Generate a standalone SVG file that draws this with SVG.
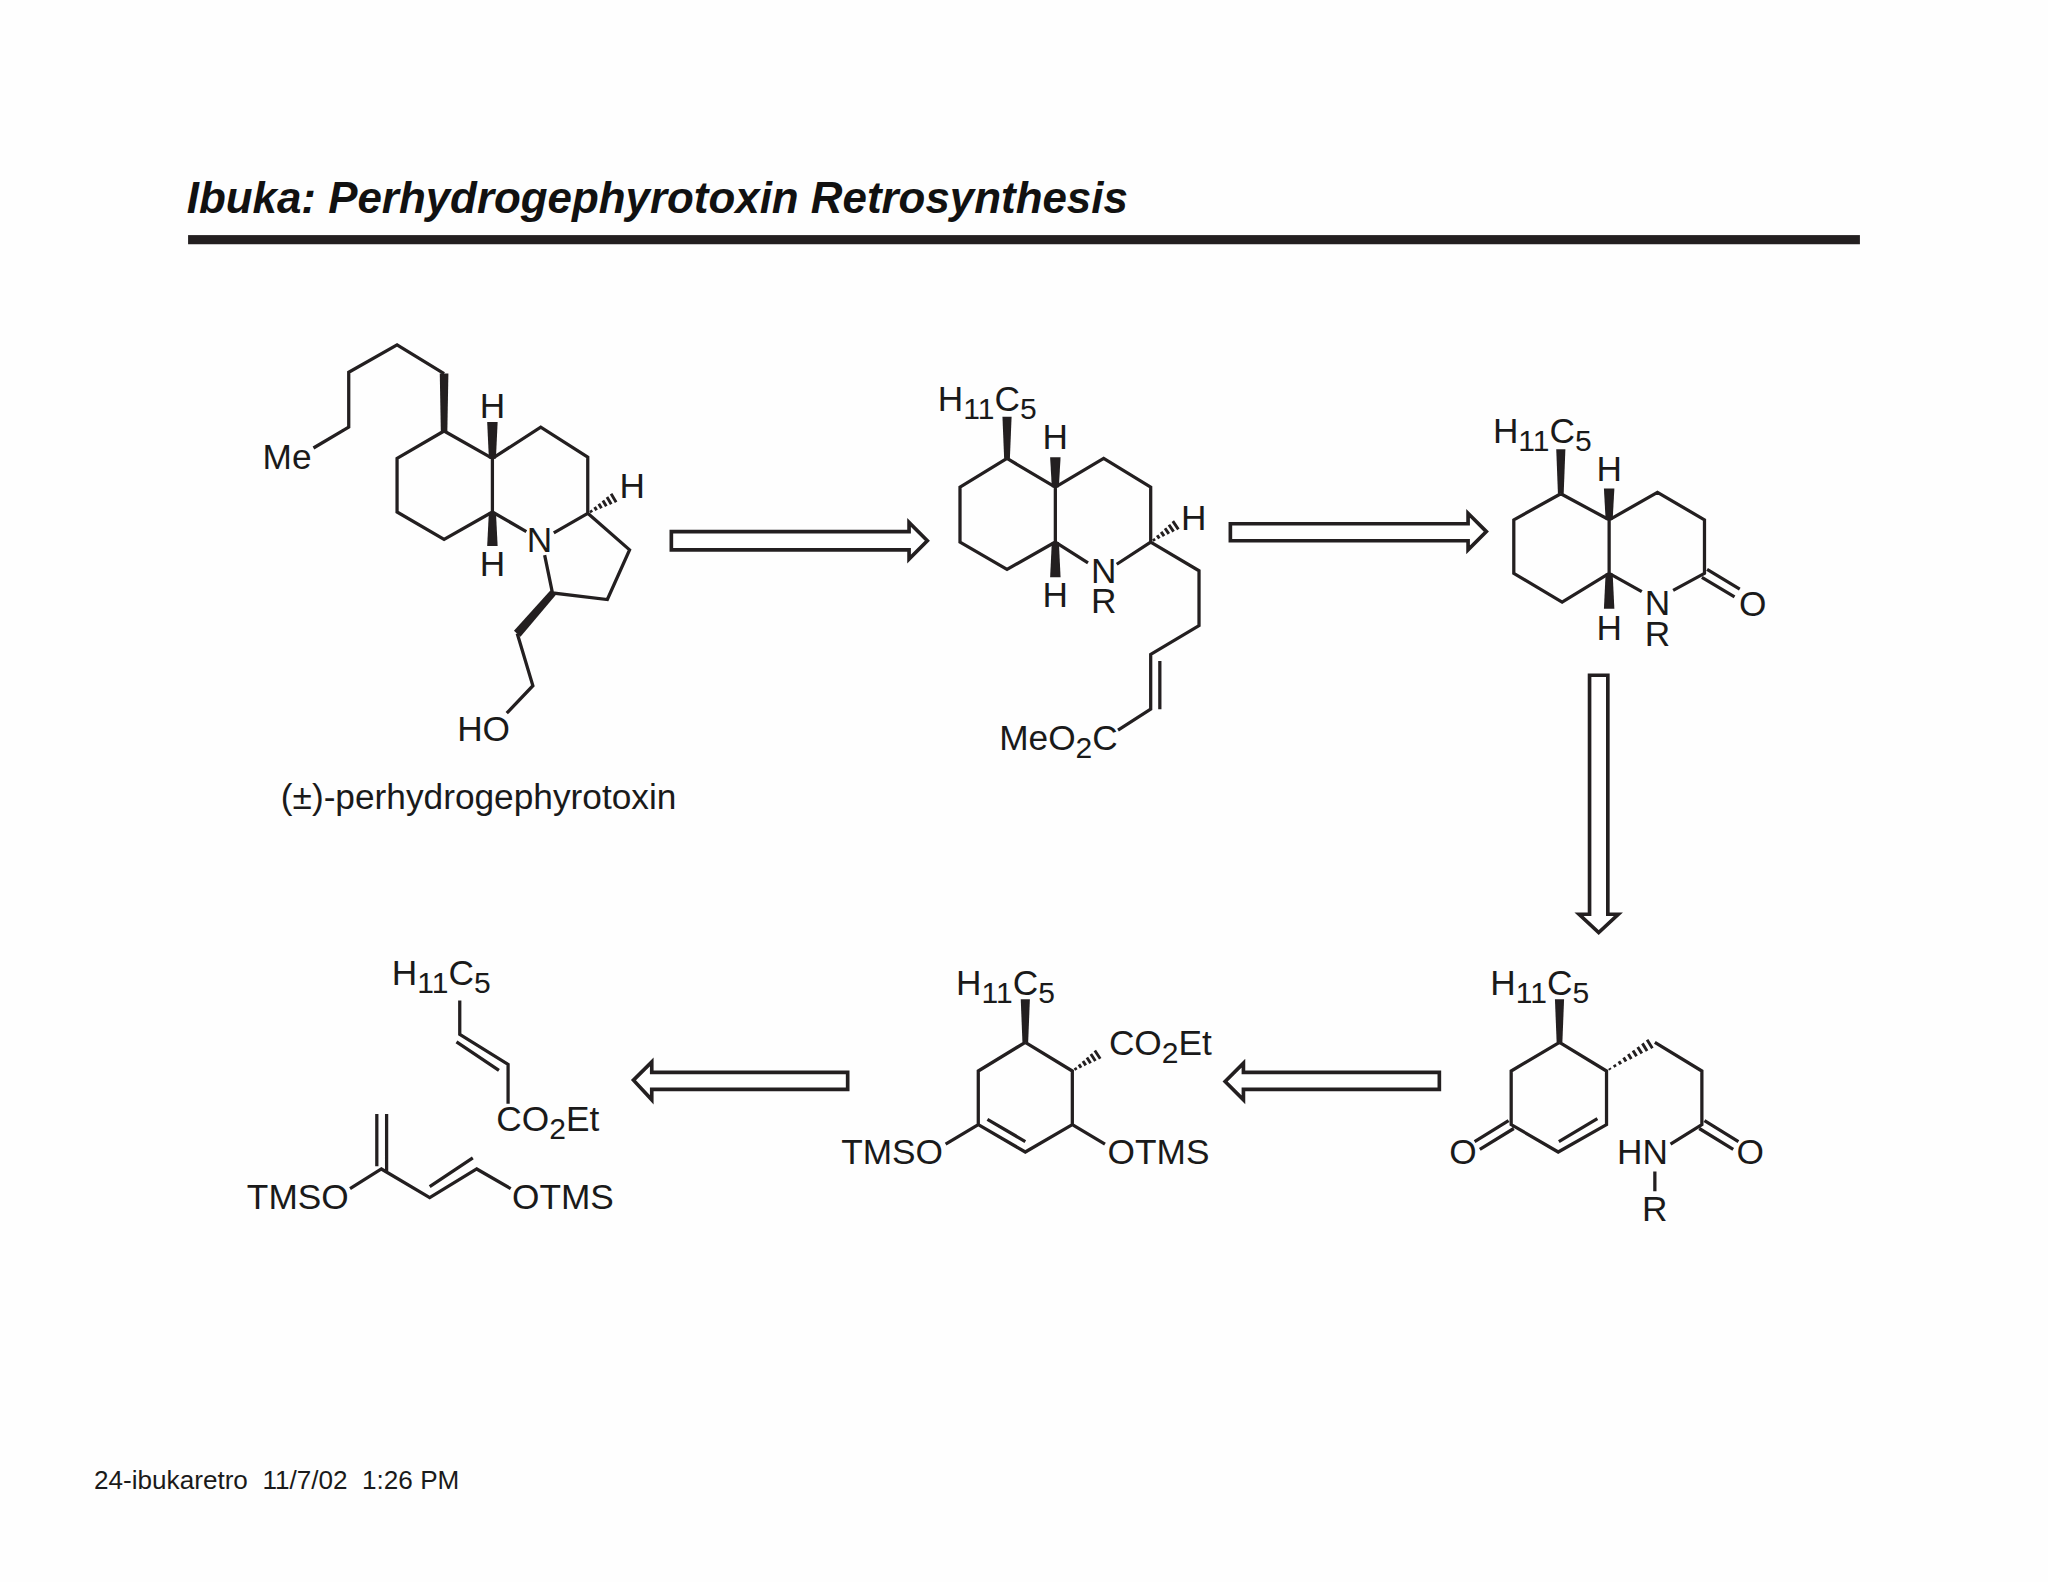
<svg xmlns="http://www.w3.org/2000/svg" width="2048" height="1582" viewBox="0 0 2048 1582">
<style>
text{font-family:"Liberation Sans",Arial,sans-serif;font-size:27px;fill:#1a1a1a}
.m{text-anchor:middle}
.s{font-size:23px}
.title{font-size:33.6px;font-weight:bold;font-style:italic;fill:#111}
.foot{font-size:20px;white-space:pre}
.b{fill:none;stroke:#231f20;stroke-width:2.5;stroke-linejoin:miter;stroke-linecap:butt}
.w{fill:#231f20;stroke:none}
.h{fill:none;stroke:#231f20;stroke-width:2.2}
.a{fill:#fff;stroke:#231f20;stroke-width:2.8;stroke-linejoin:miter}
</style>
<defs>
<path id="hash" class="h" d="M3-1V1M7-1.500V1.500M11-2V2M15-2.600V2.600M19-3.200V3.200M23-3.800V3.800"/>
<path id="hashL" class="h" d="M3-.7V.7M7.500-1V1M12-1.400V1.400M16.500-1.800V1.800M21-2.200V2.200M25.500-2.600V2.600M30-3V3M34.500-3.400V3.400M39-3.800V3.800"/>
</defs>
<rect width="2048" height="1582" fill="#fefefe"/>
<g transform="scale(1.30612)">
<g id="title">
<text class="title" x="143" y="163">Ibuka: Perhydrogephyrotoxin Retrosynthesis</text>
<rect class="w" x="144" y="180" width="1280" height="7"/>
</g>
<g id="footer"><text class="foot" x="72" y="1140">24-ibukaretro  11/7/02  1:26 PM</text></g>

<g id="connectors">
<polygon class="a" points="514,407 696,407 696,400 710,414 696,428 696,421 514,421"/>
<polygon class="a" points="942,401 1124,401 1124,393 1138,407 1124,421 1124,414 942,414"/>
<polygon class="a" points="1217,517 1231,517 1231,700 1239,700 1224,714 1209,700 1217,700"/>
<polygon class="a" points="1102,821 952,821 952,814 938,828 952,842 952,834 1102,834"/>
<polygon class="a" points="649,821 499,821 499,813 485,827 499,842 499,834 649,834"/>
</g>

<g id="perhydrogephyrotoxin">
<path class="b" d="M240,343L267,327V285L304,264L340,286M340,330L304,351V392L340,413L377,392V351L340,330M377,351L414,327L450,350V393L482,421L465,459L423,454L417,425M450,393L424,408M377,392L403,407M396,485L408,525L388,546"/>
<polygon class="w" points="337.500,330 342.500,330 343.300,286 336.700,286"/>
<polygon class="w" points="374.300,351 379.700,351 381,323 373,323"/>
<polygon class="w" points="374.300,392 379.700,392 381,418 373,418"/>
<polygon class="w" points="421.500,452 425.500,455.500 398.500,487.500 393.500,483"/>
<use href="#hash" transform="translate(450,393) rotate(-30.600)"/>
<text x="201" y="359">Me</text>
<text class="m" x="377" y="320">H</text>
<text class="m" x="377" y="441">H</text>
<text class="m" x="484" y="381">H</text>
<text class="m" x="413" y="423">N</text>
<text x="350" y="567">HO</text>
<text x="215" y="619.500">(±)-perhydrogephyrotoxin</text>
</g>

<g id="amino-ester">
<path class="b" d="M771,351L735,373V415L771,436L808,415V373L771,351M808,373L845,351L881,373V415L855,432M808,415L833,431M881,415L918,437V479L881,501V543L856,559M888,506V543"/>
<polygon class="w" points="768.800,351 773.200,351 774.500,319 767.500,319"/>
<polygon class="w" points="805.300,373 810.700,373 812,350 804,350"/>
<polygon class="w" points="805.300,415 810.700,415 812,442 804,442"/>
<use href="#hash" transform="translate(881,415) rotate(-34)"/>
<text x="718" y="315">H<tspan class="s" dy="6">11</tspan><tspan dy="-6">C</tspan><tspan class="s" dy="6">5</tspan></text>
<text class="m" x="808" y="344">H</text>
<text class="m" x="808" y="465">H</text>
<text class="m" x="845" y="446">N</text>
<text class="m" x="845" y="469.500">R</text>
<text class="m" x="914" y="406">H</text>
<text x="765" y="574">MeO<tspan class="s" dy="6">2</tspan><tspan dy="-6">C</tspan></text>
</g>

<g id="lactam">
<path class="b" d="M1195,378L1159,398V439L1196,461L1232,439V398L1195,378M1232,398L1269,377L1305,398V439L1281,452M1232,439L1257,453M1307,436L1332,451M1303,442L1328,457"/>
<polygon class="w" points="1192.800,378 1197.200,378 1198.500,344 1191.500,344"/>
<polygon class="w" points="1229.300,398 1234.700,398 1236,374 1228,374"/>
<polygon class="w" points="1229.300,439 1234.700,439 1236,466 1228,466"/>
<text x="1143" y="339.500">H<tspan class="s" dy="6">11</tspan><tspan dy="-6">C</tspan><tspan class="s" dy="6">5</tspan></text>
<text class="m" x="1232" y="368">H</text>
<text class="m" x="1232" y="490">H</text>
<text class="m" x="1269" y="471">N</text>
<text class="m" x="1269" y="494.500">R</text>
<text class="m" x="1342" y="472">O</text>
</g>

<g id="enone-amide">
<path class="b" d="M1194,798L1157,820V861L1193,882L1230,861V820L1194,798M1193.500,874L1223,856.500M1155,858L1129,874M1159,864L1133,880M1267,798L1303,820V861L1279,876M1305,858L1331,874M1301,864L1327,880M1267,897V912"/>
<polygon class="w" points="1191.800,798 1196.200,798 1197.500,765 1190.500,765"/>
<use href="#hashL" transform="translate(1230,820) rotate(-32)"/>
<text x="1141" y="762">H<tspan class="s" dy="6">11</tspan><tspan dy="-6">C</tspan><tspan class="s" dy="6">5</tspan></text>
<text class="m" x="1120" y="891.500">O</text>
<text class="m" x="1340" y="891.500">O</text>
<text x="1238" y="891.500">HN</text>
<text class="m" x="1267" y="935">R</text>
</g>

<g id="cyclohexene">
<path class="b" d="M785,798L749,820V861L785,882L821,861V820L785,798M756,857L785,874M749,861L724,876M821,861L846,876"/>
<polygon class="w" points="782.800,798 787.200,798 788.500,765 781.500,765"/>
<use href="#hash" transform="translate(821,820) rotate(-33)"/>
<text x="732" y="762">H<tspan class="s" dy="6">11</tspan><tspan dy="-6">C</tspan><tspan class="s" dy="6">5</tspan></text>
<text x="849" y="807.500">CO<tspan class="s" dy="6">2</tspan><tspan dy="-6">Et</tspan></text>
<text x="644" y="891.500">TMSO</text>
<text x="848" y="891.500">OTMS</text>
</g>

<g id="enoate">
<path class="b" d="M352,766V792L389,815V845M349.500,797.700L382,819.500"/>
<text x="300" y="754.500">H<tspan class="s" dy="6">11</tspan><tspan dy="-6">C</tspan><tspan class="s" dy="6">5</tspan></text>
<text x="380" y="866">CO<tspan class="s" dy="6">2</tspan><tspan dy="-6">Et</tspan></text>
</g>

<g id="diene">
<path class="b" d="M288.500,853V893M296,853V897M268,910L292,895L329,917L365,895L391,910M329,908.500L362,886.500"/>
<text x="189" y="926">TMSO</text>
<text x="392" y="926">OTMS</text>
</g>
</g>
</svg>
